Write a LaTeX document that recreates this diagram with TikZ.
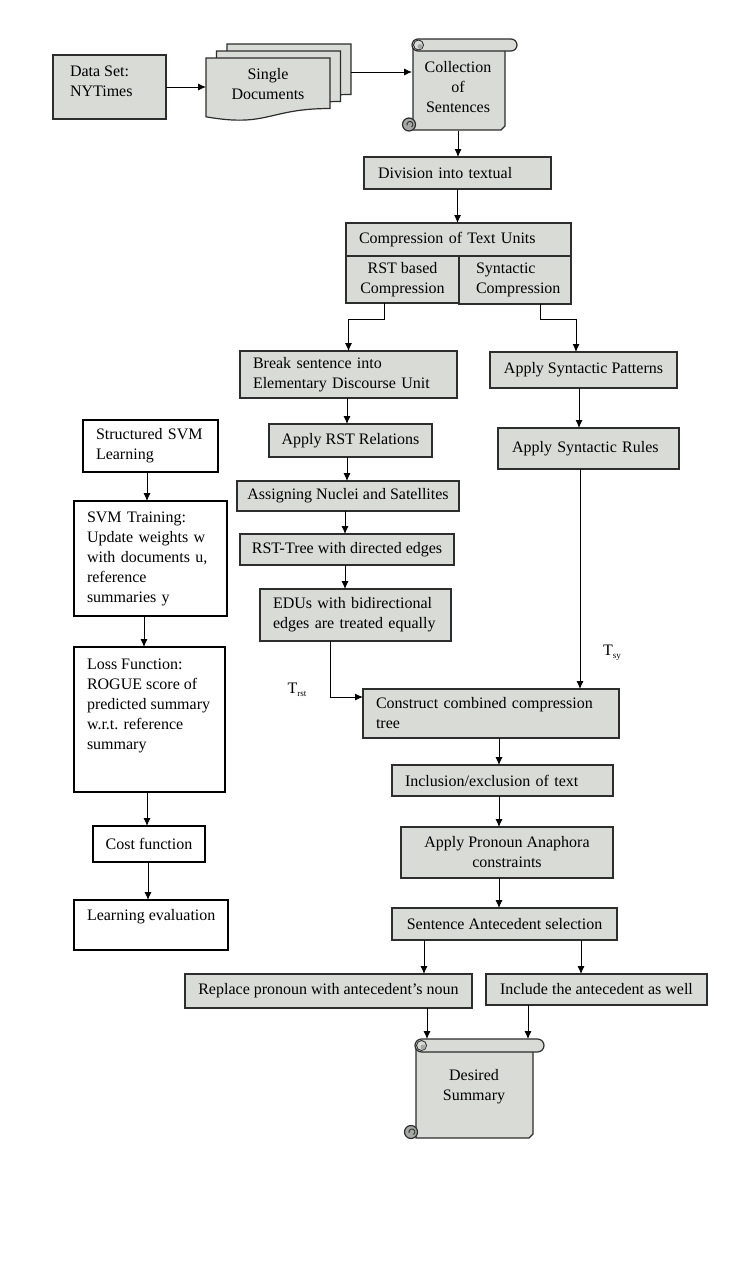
\documentclass[tikz,border=0pt]{standalone}
\usepackage{fontspec}
\setmainfont{Liberation Serif}
\usetikzlibrary{arrows.meta,calc}
\definecolor{boxgray}{RGB}{216,219,214}
\definecolor{curlgray}{RGB}{165,168,165}
\definecolor{edgec}{RGB}{45,45,45}
\begin{document}
\begin{tikzpicture}[x=1pt,y=-1pt,
  font=\fontsize{16}{20}\selectfont,
  gbox/.style={draw=edgec, line width=1.2pt, fill=boxgray, inner sep=0pt, outer sep=0pt},
  wbox/.style={draw=black, line width=1.1pt, fill=white, inner sep=0pt, outer sep=0pt},
  ghost/.style={inner sep=0pt, outer sep=0pt},
  scr/.style={draw=edgec, line width=1.2pt, fill=boxgray},
  txt/.style={inner sep=0pt, outer sep=0pt},
  lt/.style={text width=#1, align=left},
  arr/.style={-{Latex[length=8pt,width=7pt]}, line width=0.9pt, draw=black}]
\useasboundingbox (0,0) rectangle (755,1280);
\fill[white] (0,0) rectangle (755,1280);

% ---------- top row ----------
\node[gbox, minimum width=113pt, minimum height=64pt] (data) at (109.5,87) {};
\node[txt, anchor=west, align=left] (datat) at (70,81.5) {Data Set:\\NYTimes};

\foreach \dx/\dy in {21/-14, 10.5/-7, 0/0} {
  \begin{scope}[shift={(\dx,\dy)}]
    \filldraw[scr] (206,58) -- (330,58) -- (330,108.5)
      .. controls (268,108.5) and (268,127.7) .. (206,116.8) -- cycle;
  \end{scope}
}
\node[ghost, minimum width=145pt, minimum height=77pt] (docs) at (278.5,82.5) {};
\node[txt, align=center] (docst) at (268,84) {Single\\Documents};

% Collection scroll
\filldraw[scr] (413,45) -- (413,130) -- (501,130) -- (505,126) -- (505,45) -- cycle;
\filldraw[scr, rounded corners=6pt] (412,39) rectangle (517,51);
\filldraw[scr, line width=0.9pt] (418.5,45) circle[radius=5pt];
\fill[curlgray] (420,46.5) circle[radius=2.5pt];
\filldraw[scr, fill=curlgray] (409,124.5) circle[radius=6.5pt];
\draw[edgec, line width=0.9pt] (411.5,127) arc[start angle=-60, end angle=200, radius=3pt];
\node[ghost, minimum width=105pt, minimum height=92pt] (coll) at (464.5,85) {};
\node[txt, align=center] (collt) at (458,87.5) {Collection\\of\\Sentences};

% ---------- main column ----------
\node[gbox, minimum width=187pt, minimum height=32pt, lt=159pt] (div) at (457.5,173) {Division into textual};
\node[gbox, minimum width=225pt, minimum height=33pt, lt=199pt] (ctu) at (458.5,239.5) {Compression of Text Units};
\node[gbox, minimum width=113pt, minimum height=47pt, align=center] (rst) at (402.5,279.5) {RST based\\Compression};
\node[gbox, minimum width=112pt, minimum height=48pt, lt=78pt] (syn) at (515,280) {Syntactic\\Compression};

\node[gbox, minimum width=217pt, minimum height=47pt, lt=191pt] (brk) at (348.5,374.5) {Break sentence into\\Elementary Discourse Unit};
\node[gbox, minimum width=187pt, minimum height=36pt, align=center] (pat) at (583.5,370) {Apply Syntactic Patterns};
\node[gbox, minimum width=163pt, minimum height=33pt, align=center] (rel) at (350.5,440.5) {Apply RST Relations};
\node[gbox, minimum width=181pt, minimum height=41pt, lt=153pt] (rul) at (588.5,448.5) {Apply Syntactic Rules};
\node[gbox, minimum width=222pt, minimum height=30pt, align=center] (asg) at (348,496) {Assigning Nuclei and Satellites};
\node[gbox, minimum width=214pt, minimum height=31pt, align=center] (tree) at (347,549.5) {RST-Tree with directed edges};
\node[gbox, minimum width=191pt, minimum height=52pt, lt=165pt] (edu) at (355.5,615) {EDUs with bidirectional\\edges are treated equally};

\node[gbox, minimum width=256pt, minimum height=49pt, lt=230pt] (con) at (491,713.5) {Construct combined compression\\tree};
\node[gbox, minimum width=221pt, minimum height=31pt, lt=195pt] (inc) at (502.5,780.5) {Inclusion/exclusion of text};
\node[gbox, minimum width=212pt, minimum height=51pt, align=center] (pro) at (507,852.5) {Apply Pronoun Anaphora\\constraints};
\node[gbox, minimum width=225pt, minimum height=32pt, align=center] (sel) at (504.5,924) {Sentence Antecedent selection};
\node[gbox, minimum width=287pt, minimum height=34pt, align=center] (rep) at (328.5,991) {Replace pronoun with antecedent’s noun};
\node[gbox, minimum width=221pt, minimum height=31pt, align=center] (incl) at (596.5,989.5) {Include the antecedent as well};

% Desired Summary scroll
\filldraw[scr] (416,1045) -- (416,1138) -- (529,1138) -- (533,1134) -- (533,1045) -- cycle;
\filldraw[scr, rounded corners=6.5pt] (415,1039) rectangle (544,1052);
\filldraw[scr, line width=0.9pt] (421.5,1045.5) circle[radius=5pt];
\fill[curlgray] (423,1047) circle[radius=2.5pt];
\filldraw[scr, fill=curlgray] (411,1132) circle[radius=6.5pt];
\draw[edgec, line width=0.9pt] (413.5,1134.5) arc[start angle=-60, end angle=200, radius=3pt];
\node[ghost, minimum width=129pt, minimum height=99pt] (des) at (479.5,1088.5) {};
\node[txt, align=center] (dest) at (474,1087) {Desired\\Summary};

% labels
\node[txt] (trst) at (297,690) {T\raisebox{-3pt}{\fontsize{9}{9}\selectfont rst}};
\node[txt] (tsy) at (612,653) {T\raisebox{-3pt}{\fontsize{9}{9}\selectfont sy}};

% ---------- left column ----------
\node[wbox, minimum width=135pt, minimum height=52pt, lt=109pt] (str) at (150.5,446) {Structured SVM\\Learning};
\node[wbox, minimum width=153pt, minimum height=115pt, lt=127pt] (svm) at (150.5,558.5) {SVM Training:\\Update weights w\\with documents u,\\reference\\summaries y};
\node[wbox, minimum width=151pt, minimum height=145pt] (loss) at (149.5,719.5) {};
\node[txt, anchor=north west, align=left] (losst) at (87,659) {Loss Function:\\ROGUE score of\\predicted summary\\w.r.t. reference\\summary};
\node[wbox, minimum width=112pt, minimum height=36pt, align=center] (cost) at (149,844) {Cost function};
\node[wbox, minimum width=154pt, minimum height=50pt] (eval) at (151,925) {};
\node[txt, anchor=west] (evalt) at (87,917) {Learning evaluation};

% ---------- connectors ----------
\draw[arr] (data.east) -- (data.east -| docs.west);
\coordinate (cin) at ([yshift=13pt]coll.west);
\draw[arr] (docs.east |- cin) -- (cin);
\coordinate (cout) at ([xshift=-6.5pt]coll.south);
\draw[arr] (cout) -- (cout |- div.north);
\draw[arr] (div.south) -- (div.south |- ctu.north);

\draw[arr] ([xshift=-18.5pt]rst.south) -- ++(0,16) -| (brk.north);
\draw[arr] ([xshift=25pt]syn.south) -- ++(0,15) -| ([xshift=-7.5pt]pat.north);

\draw[arr] ([xshift=-1.5pt]brk.south) -- ([xshift=-1.5pt]brk.south |- rel.north);
\coordinate (pout) at ([xshift=-4.5pt]pat.south);
\draw[arr] (pout) -- (pout |- rul.north);
\coordinate (rout) at ([xshift=-3.5pt]rel.south);
\draw[arr] (rout) -- (rout |- asg.north);
\coordinate (aout) at ([xshift=-3pt]asg.south);
\draw[arr] (aout) -- (aout |- tree.north);
\coordinate (tout) at ([xshift=-2pt]tree.south);
\draw[arr] (tout) -- (tout |- edu.north);

\draw[arr] ([xshift=-25.5pt]edu.south) |- ([yshift=16.5pt]con.west);
\coordinate (ruout) at ([xshift=-8.5pt]rul.south);
\draw[arr] (ruout) -- (ruout |- con.north);

\coordinate (cnout) at ([xshift=8pt]con.south);
\draw[arr] (cnout) -- (cnout |- inc.north);
\coordinate (icout) at ([xshift=-3.5pt]inc.south);
\draw[arr] (icout) -- (icout |- pro.north);
\coordinate (prout) at ([xshift=-8pt]pro.south);
\draw[arr] (prout) -- (prout |- sel.north);

\coordinate (s1) at ([xshift=-80.5pt]sel.south);
\draw[arr] (s1) -- (s1 |- rep.north);
\coordinate (s2) at ([xshift=76.5pt]sel.south);
\draw[arr] (s2) -- (s2 |- incl.north);

\coordinate (r1) at ([xshift=98.5pt]rep.south);
\draw[arr] (r1) -- (r1 |- des.north);
\coordinate (r2) at ([xshift=-68.5pt]incl.south);
\draw[arr] (r2) -- (r2 |- des.north);

\coordinate (l1) at ([xshift=-3.5pt]str.south);
\draw[arr] (l1) -- (l1 |- svm.north);
\coordinate (l2) at ([xshift=-6.5pt]svm.south);
\draw[arr] (l2) -- (l2 |- loss.north);
\coordinate (l3) at ([xshift=-2.5pt]loss.south);
\draw[arr] (l3) -- (l3 |- cost.north);
\coordinate (l4) at ([xshift=-1pt]cost.south);
\draw[arr] (l4) -- (l4 |- eval.north);
\end{tikzpicture}
\end{document}
